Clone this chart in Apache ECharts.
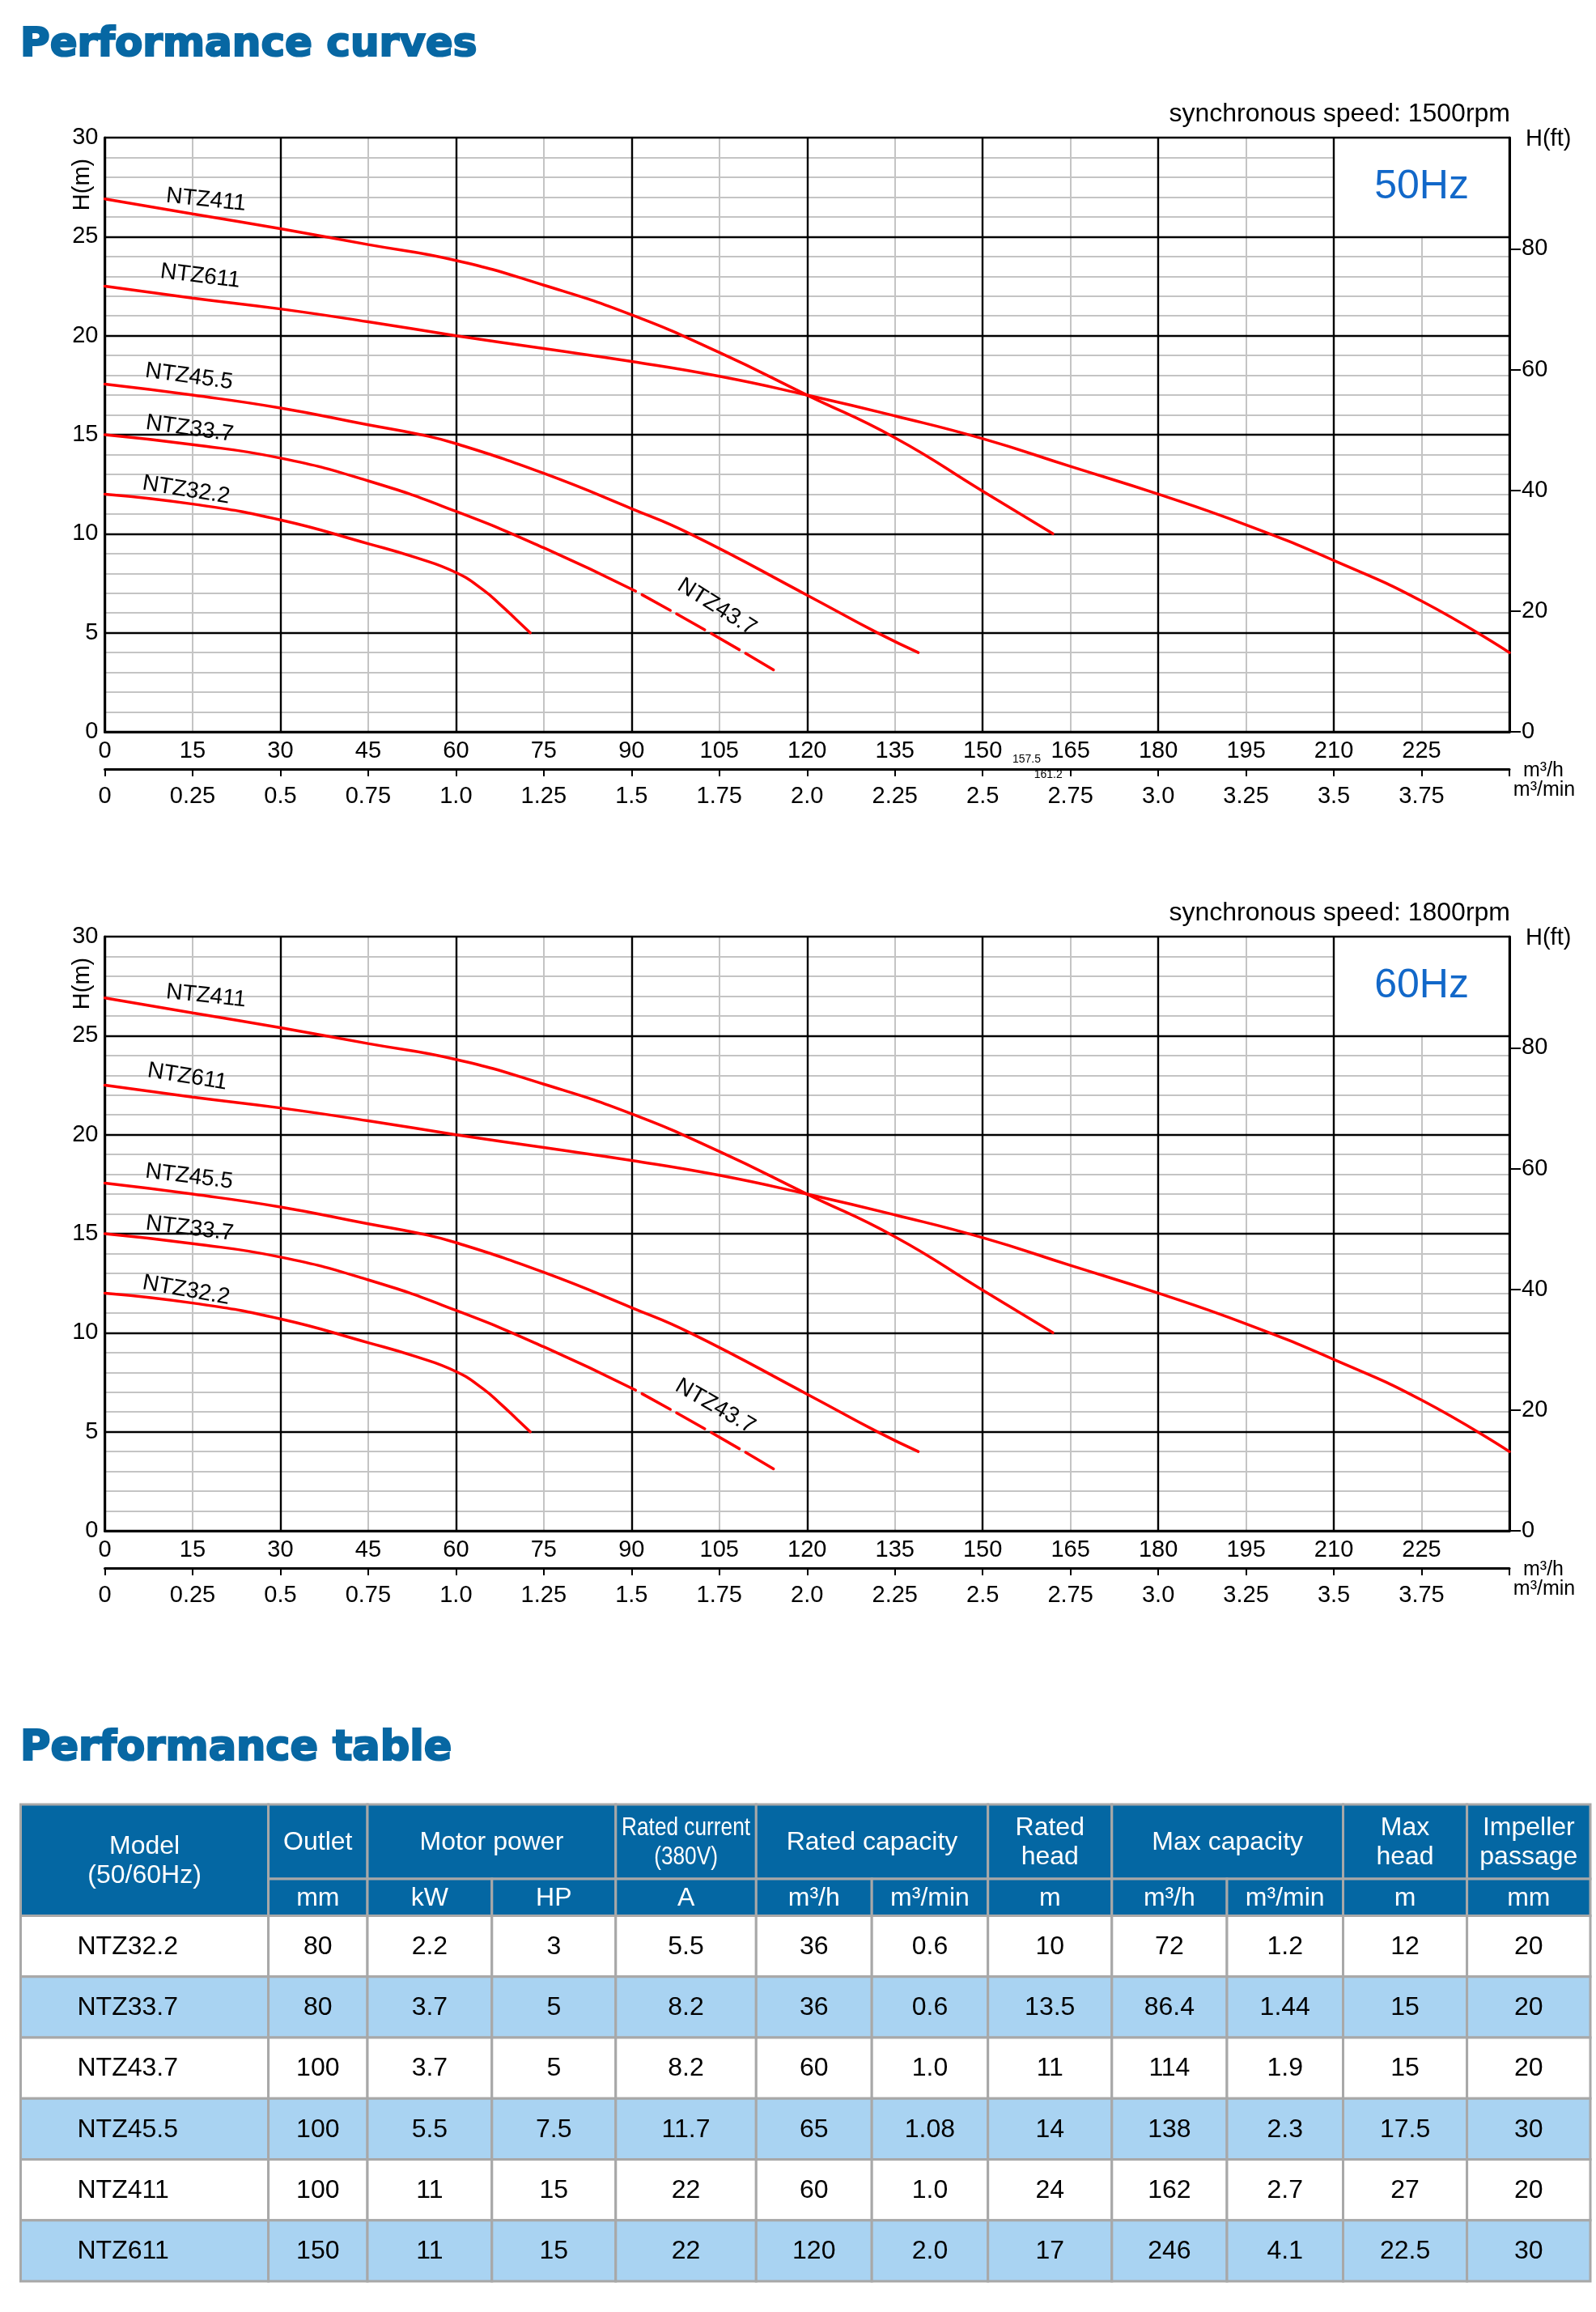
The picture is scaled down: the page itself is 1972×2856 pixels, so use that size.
<!DOCTYPE html>
<html><head><meta charset="utf-8">
<script src="https://cdn.jsdelivr.net/npm/echarts@6/dist/echarts.min.js"></script>
<style>html,body{margin:0;padding:0;background:#fff}#c{width:1972px;height:2856px}</style>
</head><body><div id="c"></div>
<script>
// ---------------- DATA ----------------
const flowLabelTicks = [0,15,30,45,60,75,90,105,120,135,150,165,180,195,210,225];
const flowMinLabels = ['0','0.25','0.5','0.75','1.0','1.25','1.5','1.75','2.0','2.25','2.5','2.75','3.0','3.25','3.5','3.75'];
const headTicks = [0,5,10,15,20,25,30];
const ftTicks = [0,20,40,60,80];
const noteFlows = ['157.5','161.2'];
const freqLabels = ['50Hz','60Hz'];
const speedLabels = ['synchronous speed: 1500rpm','synchronous speed: 1800rpm'];

const curveNames = ['NTZ411','NTZ611','NTZ45.5','NTZ33.7','NTZ43.7','NTZ32.2'];
const ntz411 = [[0,26.9],[15,26.15],[30,25.4],[45,24.6],[60,23.8],[75,22.55],[90,21.05],[105,19.15],[120,17.0],[135,14.85],[150,12.15],[162,10.0]];
const ntz611 = [[0,22.5],[15,21.9],[30,21.35],[45,20.7],[60,20.0],[75,19.35],[90,18.7],[105,17.95],[120,17.0],[135,15.95],[150,14.8],[165,13.4],[180,12.0],[195,10.45],[210,8.65],[225,6.6],[240,4.0]];
const ntz455 = [[0,17.55],[15,17.0],[30,16.35],[45,15.5],[54,15.0],[60,14.55],[75,13.05],[90,11.27],[100,10.0],[120,6.9],[132,5.0],[139,4.0]];
const ntz337 = [[0,15.0],[15,14.5],[30,13.82],[45,12.67],[60,11.13],[75,9.29],[90.7,7.1]];
const ntz437 = [[90.7,7.1],[103.4,5.0],[115,3.0]];
const ntz322 = [[0,12.0],[15,11.5],[30,10.7],[45,9.5],[53,8.81],[60,8.04],[64.6,7.18],[67.8,6.36],[70.5,5.61],[72.7,5.0]];
const curveData = [ntz411, ntz611, ntz455, ntz337, ntz437, ntz322];

// table
const tableModels = ['NTZ32.2','NTZ33.7','NTZ43.7','NTZ45.5','NTZ411','NTZ611'];
const colOutlet = ['80','80','100','100','100','150'];
const colKW = ['2.2','3.7','3.7','5.5','11','11'];
const colHP = ['3','5','5','7.5','15','15'];
const colAmp = ['5.5','8.2','8.2','11.7','22','22'];
const colRatedQh = ['36','36','60','65','60','120'];
const colRatedQmin = ['0.6','0.6','1.0','1.08','1.0','2.0'];
const colRatedHead = ['10','13.5','11','14','24','17'];
const colMaxQh = ['72','86.4','114','138','162','246'];
const colMaxQmin = ['1.2','1.44','1.9','2.3','2.7','4.1'];
const colMaxHead = ['12','15','15','17.5','27','22.5'];
const colPassage = ['20','20','20','30','20','30'];
const headerGroups = [['Model\n(50/60Hz)',0,1],['Outlet',1,1],['Motor power',2,2],['Rated current\n(380V)',4,1],['Rated capacity',5,2],['Rated\nhead',7,1],['Max capacity',8,2],['Max\nhead',10,1],['Impeller\npassage',11,1]];
const headerUnits = ['mm','kW','HP','A','m³/h','m³/min','m','m³/h','m³/min','m','mm'];

// ---------------- LAYOUT / STYLE ----------------
const FONT = 'Liberation Sans';
const BLACK = '#000', GRAY = '#c4c4c4', RED = '#ff0000', TITLE_BLUE = '#0767a3', HZ_BLUE = '#1268c9';
const HEAD_BG = '#0467a3', ROW_ALT = '#a9d3f2', CELL_LINE = '#a8a8a8';
const M2FT = 3.28084;
const TOPS = [170, 1157];
const GRID_LEFT = 129.5, GRID_W = 1735.5, GRID_H = 734;
const labelLayout = [
  [[17.3,26.85,-6],[16.3,23.0,-7],[14.4,17.93,-8],[14.5,15.3,-8],[104.6,6.3,-32],[13.9,12.2,-9]],
  [[17.3,27.0,-6],[14.1,22.92,-9],[14.4,17.88,-7],[14.5,15.26,-7],[104.3,6.28,-30],[13.9,12.14,-10]]
];
const boxExtent = [210,25,240,30];
const noteOffsets = [34, 53.5];
const TABLE = {left:25.5, top:2229, width:1939.5, height:589};
const colW = [306.1,122.4,153.8,153,173.5,142.9,143.5,153.1,142.2,143.5,153.1,152.4];
const rowH = [1.222,0.605,1,1,1,1,1,1];

const chart = echarts.init(document.getElementById('c'), null, {renderer:'canvas', width:1972, height:2856});

const grids = [], xAxes = [], yAxes = [], series = [], graphics = [];
const lblStyle = {color:BLACK, fontSize:29, fontFamily:FONT};

TOPS.forEach((top, g) => {
  grids.push({left:GRID_LEFT, top:top, width:GRID_W, height:GRID_H});
  xAxes.push({gridIndex:g, type:'value', min:0, max:240, interval:30, position:'bottom', z:3,
    axisLine:{show:true, onZero:false, lineStyle:{color:BLACK, width:3}},
    axisTick:{show:false}, axisLabel:{show:false},
    splitLine:{show:true, lineStyle:{color:BLACK, width:2.4}}});
  xAxes.push({gridIndex:g, type:'value', min:0, max:240, interval:15, position:'bottom', z:0,
    axisLine:{show:false, onZero:false}, axisTick:{show:false},
    axisLabel:Object.assign({show:true, margin:9, formatter:v => flowLabelTicks.indexOf(v) >= 0 ? String(v) : ''}, lblStyle),
    splitLine:{show:true, lineStyle:{color:GRAY, width:2}}});
  xAxes.push({gridIndex:g, type:'value', min:0, max:4, interval:0.25, position:'bottom', offset:46, z:3,
    axisLine:{show:true, onZero:false, lineStyle:{color:BLACK, width:3}},
    axisTick:{show:true, length:9, lineStyle:{color:BLACK, width:2}},
    axisLabel:Object.assign({show:true, margin:19, formatter:v => flowMinLabels[Math.round(v/0.25)] || ''}, lblStyle),
    splitLine:{show:false}});
  yAxes.push({gridIndex:g, type:'value', min:0, max:30, interval:5, position:'left', z:3,
    axisLine:{show:true, onZero:false, lineStyle:{color:BLACK, width:3}},
    axisTick:{show:false},
    axisLabel:Object.assign({show:true, margin:8, formatter:v => headTicks.indexOf(v) >= 0 ? String(v) : ''}, lblStyle),
    splitLine:{show:true, lineStyle:{color:BLACK, width:2.4}}});
  yAxes.push({gridIndex:g, type:'value', min:0, max:30, interval:1, position:'left', z:0,
    axisLine:{show:false, onZero:false}, axisTick:{show:false}, axisLabel:{show:false},
    splitLine:{show:true, lineStyle:{color:GRAY, width:2}}});
  yAxes.push({gridIndex:g, type:'value', min:0, max:30*M2FT, interval:20, position:'right', z:3,
    axisLine:{show:true, onZero:false, lineStyle:{color:BLACK, width:3}},
    axisTick:{show:true, inside:false, length:14, customValues:ftTicks, lineStyle:{color:BLACK, width:2}},
    axisLabel:Object.assign({show:true, margin:15, customValues:ftTicks, formatter:v => ftTicks.indexOf(v) >= 0 ? String(v) : ''}, lblStyle),
    splitLine:{show:false}});

  const xi = 3*g, yi = 3*g;
  curveData.forEach((d, k) => {
    const dashed = curveNames[k] === 'NTZ43.7';
    series.push({type:'line', name:curveNames[k] + '_' + g, xAxisIndex:xi, yAxisIndex:yi, data:d,
      smooth:0.5, symbol:'none', silent:true, z:5,
      lineStyle:{color:RED, width:3.5, cap:'round', type: dashed ? [40,9] : 'solid', dashOffset: dashed ? 40 : 0}});
  });
  series.push({type:'custom', xAxisIndex:xi, yAxisIndex:yi, z:6, silent:true, clip:false,
    data: curveNames.map((n, k) => [labelLayout[g][k][0], labelLayout[g][k][1]]),
    renderItem:(params, api) => {
      const p = api.coord([api.value(0), api.value(1)]);
      const rot = labelLayout[g][params.dataIndex][2];
      return {type:'text', x:p[0], y:p[1], rotation: rot * Math.PI / 180,
        style:{text:curveNames[params.dataIndex], fill:BLACK, fontSize:28, fontFamily:FONT, align:'center', verticalAlign:'middle'}};
    }});
  series.push({type:'custom', xAxisIndex:xi, yAxisIndex:yi, z:1, silent:true, clip:false,
    data:[boxExtent], encode:{x:[0,2], y:[1,3]},
    renderItem:(params, api) => {
      const p0 = api.coord([api.value(0), api.value(3)]);
      const p1 = api.coord([api.value(2), api.value(1)]);
      return {type:'group', children:[
        {type:'rect', shape:{x:p0[0], y:p0[1], width:p1[0]-p0[0], height:p1[1]-p0[1]}, style:{fill:'#fff'}},
        {type:'text', x:(p0[0]+p1[0])/2, y:(p0[1]+p1[1])/2, z2:10,
          style:{text:freqLabels[g], fill:HZ_BLUE, fontSize:50, fontFamily:FONT, align:'center', verticalAlign:'middle'}}
      ]};
    }});
  if (g === 0) {
    series.push({type:'custom', xAxisIndex:xi, yAxisIndex:yi, z:6, silent:true, clip:false,
      data: noteFlows.map(v => [parseFloat(v), 0]),
      renderItem:(params, api) => {
        const p = api.coord([api.value(0), api.value(1)]);
        return {type:'text', x:p[0], y:p[1] + noteOffsets[params.dataIndex],
          style:{text:noteFlows[params.dataIndex], fill:BLACK, fontSize:14, fontFamily:FONT, align:'center', verticalAlign:'middle'}};
      }});
  }

  graphics.push({type:'text', x:1866, y:top-29, style:{text:speedLabels[g], fill:BLACK, fontSize:32, fontFamily:FONT, align:'right', verticalAlign:'middle'}});
  graphics.push({type:'text', x:1885, y:top+2, style:{text:'H(ft)', fill:BLACK, fontSize:29, fontFamily:FONT, align:'left', verticalAlign:'middle'}});
  graphics.push({type:'text', x:102, y:top+58, rotation:Math.PI/2, style:{text:'H(m)', fill:BLACK, fontSize:29, fontFamily:FONT, align:'center', verticalAlign:'middle'}});
  graphics.push({type:'text', x:1907, y:top+782, style:{text:'m³/h', fill:BLACK, fontSize:25, fontFamily:FONT, align:'center', verticalAlign:'middle'}});
  graphics.push({type:'text', x:1908, y:top+806, style:{text:'m³/min', fill:BLACK, fontSize:25, fontFamily:FONT, align:'center', verticalAlign:'middle'}});
});

graphics.push({type:'text', x:25, y:56.5, style:{text:'Performance curves', fill:TITLE_BLUE, stroke:TITLE_BLUE, lineWidth:2.2, fontSize:50, fontWeight:'bold', fontFamily:'DejaVu Sans', align:'left', verticalAlign:'middle'}});
graphics.push({type:'text', x:25, y:2161, style:{text:'Performance table', fill:TITLE_BLUE, stroke:TITLE_BLUE, lineWidth:2.2, fontSize:51, fontWeight:'bold', fontFamily:'DejaVu Sans', align:'left', verticalAlign:'middle'}});

// ---------------- TABLE ----------------
const colX = [0]; colW.forEach(w => colX.push(colX[colX.length-1] + w));
const rowY = [0]; rowH.forEach(h => rowY.push(rowY[rowY.length-1] + h));
const cells = [];
headerGroups.forEach(([t, c, span]) => {
  cells.push({x0:colX[c], x1:colX[c+span], y0:0, y1: c === 0 ? rowY[2] : rowY[1], text:t, fill:HEAD_BG, color:'#fff', align:'center',
    sx: t.indexOf('Rated current') === 0 ? 0.82 : 1});
});
headerUnits.forEach((u, i) => cells.push({x0:colX[i+1], x1:colX[i+2], y0:rowY[1], y1:rowY[2], text:u, fill:HEAD_BG, color:'#fff', align:'center', sx:1}));
const dataCols = [colOutlet, colKW, colHP, colAmp, colRatedQh, colRatedQmin, colRatedHead, colMaxQh, colMaxQmin, colMaxHead, colPassage];
tableModels.forEach((m, r) => {
  const fill = r % 2 === 1 ? ROW_ALT : '#fff';
  cells.push({x0:colX[0], x1:colX[1], y0:rowY[2+r], y1:rowY[3+r], text:m, fill, color:BLACK, align:'left', sx:1});
  dataCols.forEach((col, i) => cells.push({x0:colX[i+1], x1:colX[i+2], y0:rowY[2+r], y1:rowY[3+r], text:col[r], fill, color:BLACK, align:'center', sx:1}));
});
const tgi = grids.length;
grids.push({left:TABLE.left, top:TABLE.top, width:TABLE.width, height:TABLE.height});
xAxes.push({gridIndex:tgi, type:'value', min:0, max:colX[colX.length-1], show:false});
yAxes.push({gridIndex:tgi, type:'value', min:0, max:rowY[rowY.length-1], inverse:true, show:false});
series.push({type:'custom', xAxisIndex:xAxes.length-1, yAxisIndex:yAxes.length-1, silent:true, clip:false, z:2,
  data: cells.map(c => [c.x0, c.y0, c.x1, c.y1]), encode:{x:[0,2], y:[1,3]},
  renderItem:(params, api) => {
    const c = cells[params.dataIndex];
    const p0 = api.coord([c.x0, c.y0]);
    const p1 = api.coord([c.x1, c.y1]);
    const tx = c.align === 'left' ? p0[0] + 70 : (p0[0]+p1[0])/2;
    return {type:'group', children:[
      {type:'rect', shape:{x:p0[0], y:p0[1], width:p1[0]-p0[0], height:p1[1]-p0[1]}, style:{fill:c.fill, stroke:CELL_LINE, lineWidth:3}},
      {type:'text', x:tx, y:(p0[1]+p1[1])/2 + 1, scaleX:c.sx, z2:5,
        style:{text:c.text, fill:c.color, fontSize:32, fontFamily:FONT, lineHeight:36, align:c.align, verticalAlign:'middle'}}
    ]};
  }});

chart.setOption({
  animation:false,
  backgroundColor:'#fff',
  grid:grids, xAxis:xAxes, yAxis:yAxes, series:series, graphic:graphics
});
</script>
</body></html>
